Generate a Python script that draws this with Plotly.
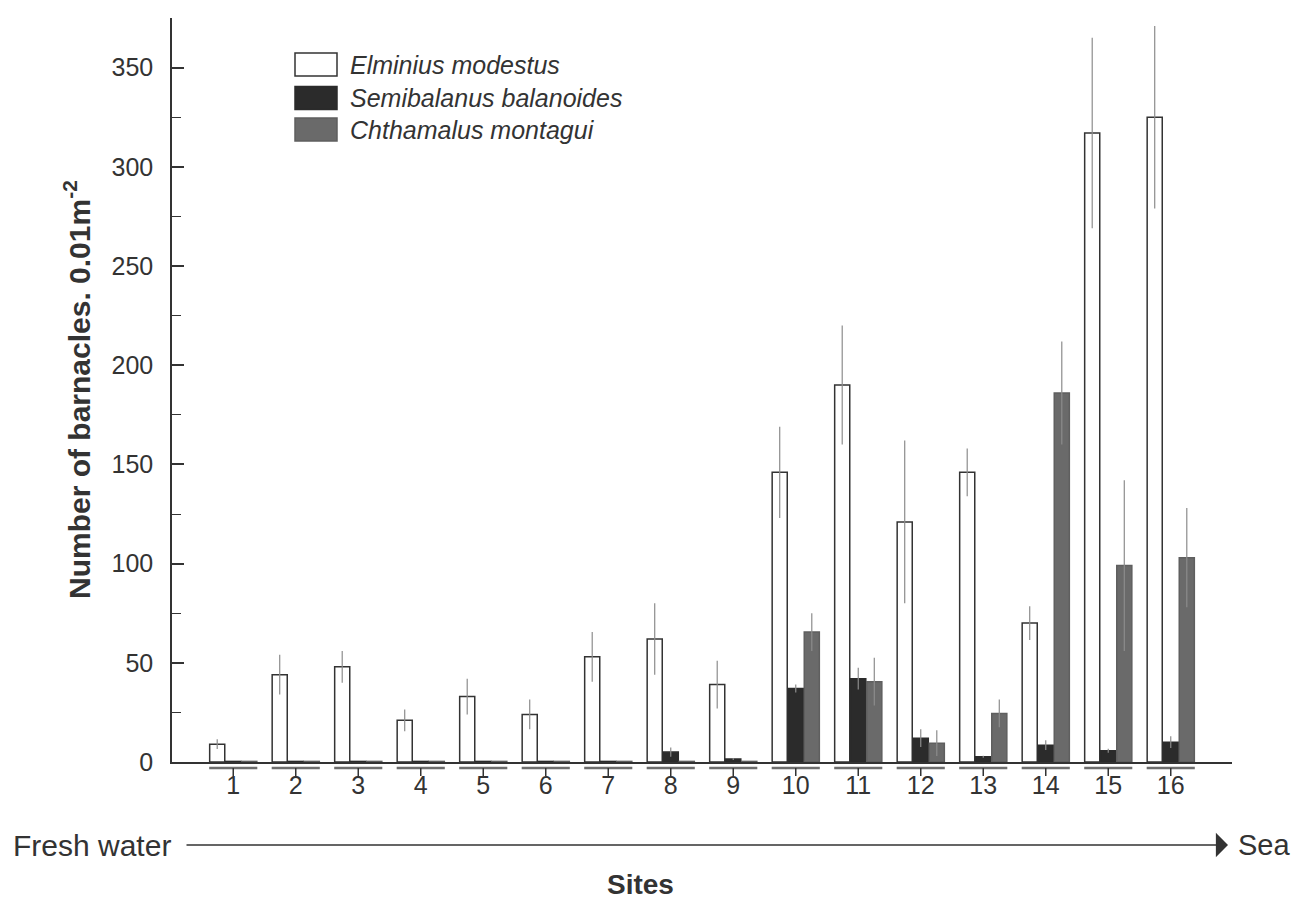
import plotly.graph_objects as go

sites = list(range(1, 17))
site_labels = [str(s) for s in sites]

elminius = [9, 44, 48, 21, 33, 24, 53, 62, 39, 146, 190, 121, 146, 70, 317, 325]
elminius_se = [2.5, 10, 8, 5.5, 9, 7.5, 12.5, 18, 12, 23, 30, 41, 12, 8.5, 48, 46]

semibalanus = [0.3, 0.3, 0.3, 0.3, 0.3, 0.3, 0.3, 5, 1.5, 37, 42, 12, 2.7, 8.5, 5.7, 10]
semibalanus_se = [0, 0, 0, 0, 0, 0, 0, 2.3, 0.5, 2, 5.5, 4.5, 0.5, 2.5, 1, 3]

chthamalus = [0.3, 0.3, 0.3, 0.3, 0.3, 0.3, 0.3, 0.3, 0.3, 65.5, 40.5, 9.5, 24.5, 186, 99, 103]
chthamalus_se = [0, 0, 0, 0, 0, 0, 0, 0, 0, 9.5, 12, 6.5, 7, 26, 43, 25]

series_names = ["Elminius modestus", "Semibalanus balanoides", "Chthamalus montagui"]
fill_colors = ["#ffffff", "#2b2b2b", "#6a6a6a"]
line_colors = ["#333333", "#2b2b2b", "#5f5f5f"]
values = [elminius, semibalanus, chthamalus]
errors = [elminius_se, semibalanus_se, chthamalus_se]

FONT = "Liberation Sans, Arial, Helvetica, sans-serif"
TXT = "#333333"

fig = go.Figure()
for name, v, e, fc, lc in zip(series_names, values, errors, fill_colors, line_colors):
    fig.add_trace(go.Bar(
        x=sites, y=v, name=name, showlegend=False,
        marker=dict(color=fc, line=dict(color=lc, width=1.5)),
        error_y=dict(type="data", array=e, visible=True, color="#8c8c8c",
                     thickness=1.2, width=0),
    ))

W, H = 1291, 901
ML, MR, MT, MB = 172, 59, 18, 139
PW, PH = W - ML - MR, H - MT - MB

def px_x(p):
    return (p - ML) / PW

def px_y(p):
    return (H - MB - p) / PH

shapes = []
annotations = []

# grouped segments under each site with centre tick
group_half = 0.385
for s in sites:
    shapes.append(dict(type="line", xref="x", yref="paper",
                       x0=s - group_half, x1=s + group_half,
                       y0=-6 / PH, y1=-6 / PH,
                       line=dict(color="#6e6e6e", width=2.5)))
    shapes.append(dict(type="line", xref="x", yref="paper",
                       x0=s, x1=s, y0=-6 / PH, y1=-14 / PH,
                       line=dict(color="#333333", width=1.5)))

# manual legend
legend_centers = [64.5, 98, 129.5]
for name, fc, lc, cy in zip(series_names, fill_colors, line_colors, legend_centers):
    shapes.append(dict(type="rect", xref="paper", yref="paper",
                       x0=px_x(295), x1=px_x(337),
                       y0=px_y(cy - 11.5), y1=px_y(cy + 11.5),
                       fillcolor=fc, line=dict(color=lc, width=1.5)))
    annotations.append(dict(text="<i>" + name + "</i>", xref="paper", yref="paper",
                            x=px_x(348), y=px_y(cy), xanchor="left", yanchor="middle",
                            showarrow=False, font=dict(family=FONT, size=25, color=TXT)))

# y axis title
annotations.append(dict(text="<b>Number of barnacles. 0.01m<sup>-2</sup></b>",
                        xref="paper", yref="paper", x=px_x(77), y=0.5,
                        xanchor="center", yanchor="middle", textangle=-90,
                        showarrow=False, font=dict(family=FONT, size=30, color=TXT)))

# gradient arrow from "Fresh water" towards the sea
annotations.append(dict(text="Fresh water", xref="paper", yref="paper",
                        x=px_x(1228), y=px_y(845), ax=(92 - 1228), ay=0,
                        showarrow=True, standoff=0, startstandoff=14,
                        arrowhead=1, arrowsize=2.7, arrowwidth=1.5, arrowcolor="#333333",
                        font=dict(family=FONT, size=30, color=TXT)))
annotations.append(dict(text="Sea", xref="paper", yref="paper",
                        x=px_x(1236), y=px_y(845), xanchor="left", yanchor="middle",
                        showarrow=False, font=dict(family=FONT, size=29, color=TXT)))
annotations.append(dict(text="<b>Sites</b>", xref="paper", yref="paper",
                        x=px_x(640), y=px_y(884), xanchor="center", yanchor="middle",
                        showarrow=False, font=dict(family=FONT, size=28, color=TXT)))

fig.update_layout(
    width=W, height=H,
    margin=dict(l=ML, r=MR, t=MT, b=MB, autoexpand=False),
    paper_bgcolor="white", plot_bgcolor="white",
    barmode="group", bargap=0.23, bargroupgap=0.06,
    font=dict(family=FONT, color=TXT),
    shapes=shapes, annotations=annotations,
    xaxis=dict(range=[0.02, 16.98], tickmode="array", tickvals=sites, ticktext=site_labels,
               ticks="", showgrid=False, zeroline=False,
               showline=True, linecolor="#333333", linewidth=1.5,
               tickfont=dict(family=FONT, size=25, color=TXT), ticklabelstandoff=0),
    yaxis=dict(range=[0, 375], tick0=0, dtick=50, ticks="inside", ticklen=12,
               tickwidth=1.5, tickcolor="#333333",
               minor=dict(dtick=25, ticks="inside", ticklen=9, tickwidth=1.2,
                          tickcolor="#333333", showgrid=False),
               showgrid=False, zeroline=False,
               showline=True, linecolor="#333333", linewidth=1.5,
               tickfont=dict(family=FONT, size=25, color=TXT), ticklabelstandoff=12),
)

fig.write_html("out.html", config={"displayModeBar": False},
               post_script="document.body.style.margin='0';document.body.style.overflow='hidden';")
